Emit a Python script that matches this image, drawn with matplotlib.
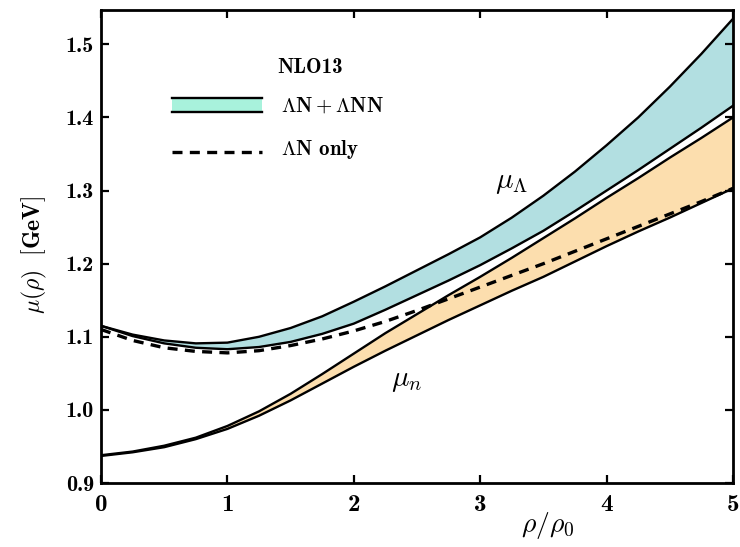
import matplotlib
matplotlib.use('Agg')
import matplotlib.pyplot as plt

plt.rcParams['mathtext.fontset'] = 'cm'
plt.rcParams['font.family'] = ['cmb10', 'DejaVu Serif']

# density rho/rho0
rho = [0.0, 0.25, 0.5, 0.75, 1.0, 1.25, 1.5, 1.75, 2.0, 2.25, 2.5,
       2.75, 3.0, 3.25, 3.5, 3.75, 4.0, 4.25, 4.5, 4.75, 5.0]

# Lambda chemical potential, LN + LNN band
mu_lam_hi = [1.115, 1.103, 1.095, 1.091, 1.092, 1.100, 1.112, 1.128, 1.148, 1.169, 1.191,
             1.213, 1.236, 1.263, 1.293, 1.326, 1.362, 1.400, 1.442, 1.487, 1.535]
mu_lam_lo = [1.115, 1.101, 1.091, 1.085, 1.083, 1.086, 1.093, 1.104, 1.118, 1.137, 1.157,
             1.177, 1.198, 1.221, 1.245, 1.272, 1.300, 1.328, 1.357, 1.386, 1.416]
# Lambda, LN only
mu_lam_ln = [1.110, 1.095, 1.085, 1.080, 1.078, 1.081, 1.088, 1.097, 1.108, 1.121, 1.136,
             1.152, 1.168, 1.184, 1.200, 1.217, 1.234, 1.251, 1.268, 1.285, 1.303]

# neutron chemical potential band
mu_n_hi = [0.938, 0.943, 0.951, 0.962, 0.978, 0.998, 1.022, 1.049, 1.077, 1.105, 1.131,
           1.157, 1.182, 1.208, 1.235, 1.262, 1.290, 1.317, 1.345, 1.372, 1.400]
mu_n_lo = [0.937, 0.942, 0.949, 0.960, 0.974, 0.992, 1.013, 1.036, 1.059, 1.081, 1.102,
           1.123, 1.143, 1.163, 1.182, 1.203, 1.224, 1.244, 1.263, 1.283, 1.303]

xticks = [0, 1, 2, 3, 4, 5]
yticks = [0.9, 1.0, 1.1, 1.2, 1.3, 1.4, 1.5]

teal = '#b2dfe1'
peach = '#fcdeae'
legend_teal = '#a8f2dc'

fig = plt.figure(figsize=(7.4, 5.47), dpi=100)
ax = fig.add_axes([0.1365, 0.117, 0.854, 0.8647])

ax.fill_between(rho, mu_lam_lo, mu_lam_hi, color=teal, lw=0)
ax.plot(rho, mu_lam_hi, 'k-', lw=1.7)
ax.plot(rho, mu_lam_lo, 'k-', lw=1.7)

ax.fill_between(rho, mu_n_lo, mu_n_hi, color=peach, lw=0)
ax.plot(rho, mu_n_hi, 'k-', lw=1.7)
ax.plot(rho, mu_n_lo, 'k-', lw=1.7)

ax.plot(rho, mu_lam_ln, 'k--', lw=2.4, dashes=(3, 2.2))

ax.set_xlim(0, 5)
ax.set_ylim(0.9, 1.547)
ax.set_xticks(xticks)
ax.set_yticks(yticks)
ax.set_xticklabels([str(t) for t in xticks], fontsize=18)
ax.set_yticklabels(['%.1f' % t for t in yticks], fontsize=16)
ax.tick_params(direction='in', length=6, width=1.6, top=True, right=True, pad=5)
ax.tick_params(axis='x', pad=8)
for s in ax.spines.values():
    s.set_linewidth(2)

ax.text(0.707, -0.058, r'$\rho/\rho_0$', transform=ax.transAxes,
        fontsize=20, ha='center', va='top')
fig.text(0.047, 0.534, r'$\mu(\rho)\ \ [\mathbf{GeV}]$', rotation=90,
         fontsize=17, ha='center', va='center')

ax.text(3.25, 1.31, r'$\mu_\Lambda$', fontsize=21, ha='center', va='center')
ax.text(2.42, 1.04, r'$\mu_n$', fontsize=21, ha='center', va='center')

# legend drawn by hand
ax.text(0.331, 0.878, 'NLO13', transform=ax.transAxes,
        fontsize=15, ha='center', va='center')
ax.fill_between([0.112, 0.255], [0.785, 0.785], [0.815, 0.815],
                transform=ax.transAxes, color=legend_teal, lw=0)
ax.plot([0.112, 0.255], [0.815, 0.815], 'k-', lw=1.7, transform=ax.transAxes)
ax.plot([0.112, 0.255], [0.785, 0.785], 'k-', lw=1.7, transform=ax.transAxes)
ax.text(0.285, 0.798, r'$\mathbf{\Lambda N + \Lambda NN}$', transform=ax.transAxes,
        fontsize=15, ha='left', va='center')
ax.plot([0.112, 0.255], [0.7, 0.7], 'k--', lw=2.4, dashes=(3, 2.2),
        transform=ax.transAxes)
ax.text(0.285, 0.705, r'$\mathbf{\Lambda N}$ only', transform=ax.transAxes,
        fontsize=15, ha='left', va='center')

fig.savefig('out.png', dpi=100)
